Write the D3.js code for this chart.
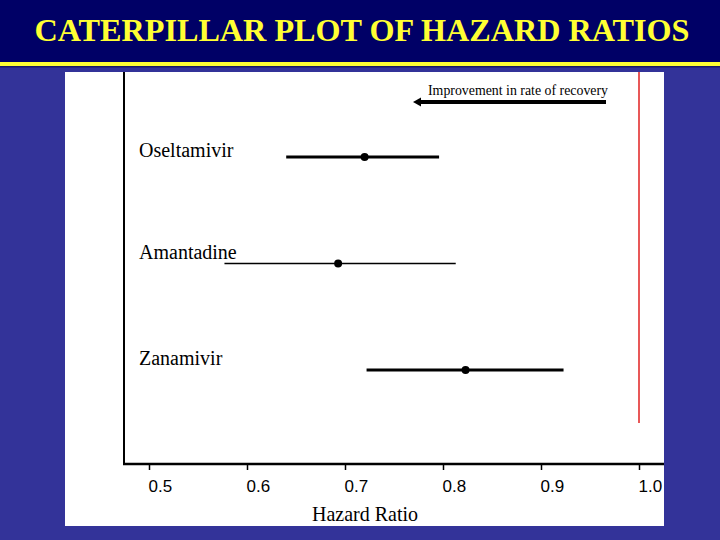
<!DOCTYPE html>
<html><head><meta charset="utf-8">
<script src="https://cdn.jsdelivr.net/npm/d3@7"></script>
<style>html,body{margin:0;padding:0;background:#333399;}svg{display:block;}
.serif{font-family:"Liberation Serif","Times New Roman",serif;}
.sans{font-family:"Liberation Sans",Arial,sans-serif;}
</style>
</head><body>
<script>
const drugs = ["Oseltamivir", "Amantadine", "Zanamivir"];
const hazardRatio = [0.720, 0.693, 0.823];
const ciLower = [0.640, 0.577, 0.722];
const ciUpper = [0.796, 0.813, 0.923];
const lineWeight = [3, 1.5, 3];
const tickValues = [0.5, 0.6, 0.7, 0.8, 0.9, 1.0];

const W = 720, H = 540;
const svg = d3.select("body").append("svg").attr("width", W).attr("height", H);

svg.append("rect").attr("width", W).attr("height", H).attr("fill", "#333399");
svg.append("rect").attr("width", W).attr("height", 62).attr("fill", "#000066");
svg.append("rect").attr("y", 62).attr("width", W).attr("height", 4).attr("fill", "#ffff33");
svg.append("rect").attr("y", 66).attr("width", W).attr("height", 1.5).attr("fill", "#1a1a66");

svg.append("text").attr("x", 362).attr("y", 41)
  .attr("text-anchor", "middle")
  .attr("font-family", "Liberation Serif")
  .attr("font-weight", "bold").attr("font-size", 32)
  .attr("fill", "#ffff33")
  .attr("textLength", 655).attr("lengthAdjust", "spacingAndGlyphs")
  .text("CATERPILLAR PLOT OF HAZARD RATIOS");

// white panel
svg.append("rect").attr("x", 65).attr("y", 72).attr("width", 599).attr("height", 454).attr("fill", "#ffffff");

const x = d3.scaleLinear().domain([0.5, 1.0]).range([149, 639]);
const y = d3.scalePoint().domain(drugs).range([157, 370]);

// reference line
svg.append("line").attr("x1", x(1.0)).attr("x2", x(1.0)).attr("y1", 72).attr("y2", 423)
  .attr("stroke", "#e02020").attr("stroke-width", 1.5);

// axes
svg.append("line").attr("x1", 124).attr("x2", 124).attr("y1", 72).attr("y2", 465)
  .attr("stroke", "#000").attr("stroke-width", 2);
const xAxis = svg.append("g").attr("transform", "translate(0,464)")
  .call(d3.axisBottom(x).tickValues(tickValues).tickFormat(d3.format(".1f")).tickSizeOuter(0).tickSizeInner(6).tickPadding(10));
xAxis.select(".domain").remove();
xAxis.selectAll(".tick line").attr("stroke", "#000").attr("stroke-width", 1.5);
xAxis.selectAll(".tick text").attr("class", "sans").attr("font-family", null)
  .style("font-size", "17px").attr("fill", "#000").attr("text-anchor", "start").attr("dx", -1);
svg.append("line").attr("x1", 123).attr("x2", 664).attr("y1", 464).attr("y2", 464)
  .attr("stroke", "#000").attr("stroke-width", 2.5);

svg.append("text").attr("class", "serif").attr("x", 312).attr("y", 521)
  .style("font-size", "21px")
  .attr("textLength", 106).attr("lengthAdjust", "spacingAndGlyphs")
  .text("Hazard Ratio");

// arrow annotation
svg.append("text").attr("class", "serif").attr("x", 428).attr("y", 95)
  .style("font-size", "14px")
  .attr("textLength", 180).attr("lengthAdjust", "spacingAndGlyphs")
  .text("Improvement in rate of recovery");
svg.append("line").attr("x1", 606).attr("x2", 420).attr("y1", 102).attr("y2", 102)
  .attr("stroke", "#000").attr("stroke-width", 4);
svg.append("path").attr("d", "M413,102 L421,97.5 L421,106.5 Z").attr("fill", "#000");

// rows
const rows = svg.append("g");
drugs.forEach((d, i) => {
  rows.append("text").attr("class", "serif").attr("x", 139).attr("y", y(d) + (i === 0 ? 0 : -5))
    .style("font-size", "20px")
    .text(d);
  rows.append("line").attr("x1", x(ciLower[i])).attr("x2", x(ciUpper[i]))
    .attr("y1", y(d)).attr("y2", y(d)).attr("stroke", "#000").attr("stroke-width", lineWeight[i]);
  rows.append("circle").attr("cx", x(hazardRatio[i])).attr("cy", y(d)).attr("r", 4).attr("fill", "#000");
});
</script>
</body></html>
